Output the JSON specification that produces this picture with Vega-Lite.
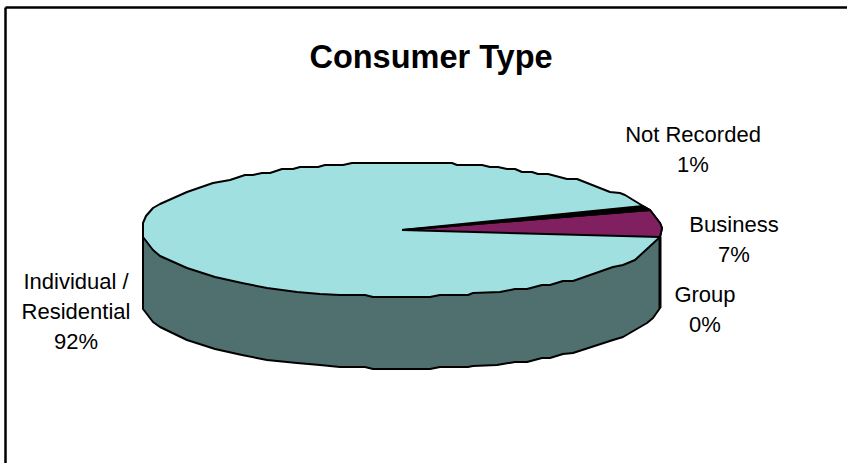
{
  "$schema": "https://vega.github.io/schema/vega-lite/v6.json",
  "width": 842,
  "height": 456,
  "padding": {"left": 5, "top": 7, "right": 0, "bottom": 0},
  "autosize": "none",
  "background": "white",
  "config": {"view": {"stroke": null}},
  "title": {
    "text": "Consumer Type",
    "font": "Liberation Sans",
    "fontSize": 32.5,
    "fontWeight": "bold",
    "color": "black",
    "anchor": "middle",
    "frame": "group",
    "baseline": "alphabetic",
    "dx": 5,
    "offset": -93
  },
  "datasets": {
    "outlines": [
      {"part":"Individual / Residential","share":92,"seq":1,"x":-129.5,"y":-3.5},
      {"part":"Individual / Residential","share":92,"seq":2,"x":-129.5,"y":3.5},
      {"part":"Individual / Residential","share":92,"seq":3,"x":-128,"y":7},
      {"part":"Individual / Residential","share":92,"seq":4,"x":-124.5,"y":11},
      {"part":"Individual / Residential","share":92,"seq":5,"x":-121,"y":13},
      {"part":"Individual / Residential","share":92,"seq":6,"x":-107.5,"y":19},
      {"part":"Individual / Residential","share":92,"seq":7,"x":-94.5,"y":23.5},
      {"part":"Individual / Residential","share":92,"seq":8,"x":-86,"y":25},
      {"part":"Individual / Residential","share":92,"seq":9,"x":-78.5,"y":27.5},
      {"part":"Individual / Residential","share":92,"seq":10,"x":-74.5,"y":27.5},
      {"part":"Individual / Residential","share":92,"seq":11,"x":-70,"y":28.5},
      {"part":"Individual / Residential","share":92,"seq":12,"x":-66,"y":28.5},
      {"part":"Individual / Residential","share":92,"seq":13,"x":-60,"y":30.5},
      {"part":"Individual / Residential","share":92,"seq":14,"x":-54.5,"y":30.5},
      {"part":"Individual / Residential","share":92,"seq":15,"x":-51,"y":31.5},
      {"part":"Individual / Residential","share":92,"seq":16,"x":-42,"y":31.5},
      {"part":"Individual / Residential","share":92,"seq":17,"x":-38.5,"y":32.5},
      {"part":"Individual / Residential","share":92,"seq":18,"x":-29.5,"y":32.5},
      {"part":"Individual / Residential","share":92,"seq":19,"x":-25,"y":33.5},
      {"part":"Individual / Residential","share":92,"seq":20,"x":25,"y":33.5},
      {"part":"Individual / Residential","share":92,"seq":21,"x":27.5,"y":32.5},
      {"part":"Individual / Residential","share":92,"seq":22,"x":40,"y":32.5},
      {"part":"Individual / Residential","share":92,"seq":23,"x":44,"y":31.5},
      {"part":"Individual / Residential","share":92,"seq":24,"x":48,"y":31.5},
      {"part":"Individual / Residential","share":92,"seq":25,"x":52.5,"y":30.5},
      {"part":"Individual / Residential","share":92,"seq":26,"x":56.5,"y":30.5},
      {"part":"Individual / Residential","share":92,"seq":27,"x":60,"y":29},
      {"part":"Individual / Residential","share":92,"seq":28,"x":65,"y":29},
      {"part":"Individual / Residential","share":92,"seq":29,"x":68,"y":28},
      {"part":"Individual / Residential","share":92,"seq":30,"x":73,"y":28},
      {"part":"Individual / Residential","share":92,"seq":31,"x":82.5,"y":25.5},
      {"part":"Individual / Residential","share":92,"seq":32,"x":87.5,"y":25.5},
      {"part":"Individual / Residential","share":92,"seq":33,"x":104,"y":19},
      {"part":"Individual / Residential","share":92,"seq":34,"x":109,"y":18.5},
      {"part":"Individual / Residential","share":92,"seq":35,"x":111.5,"y":17.5},
      {"part":"Individual / Residential","share":92,"seq":36,"x":120.5,"y":12},
      {"part":"Individual / Residential","share":92,"seq":37,"x":124,"y":10},
      {"part":"Individual / Residential","share":92,"seq":38,"x":129,"y":3.5},
      {"part":"Individual / Residential","share":92,"seq":39,"x":130,"y":1},
      {"part":"Individual / Residential","share":92,"seq":40,"x":129,"y":-3.5},
      {"part":"Individual / Residential","share":92,"seq":41,"x":116.5,"y":-15},
      {"part":"Individual / Residential","share":92,"seq":42,"x":110.5,"y":-17.5},
      {"part":"Individual / Residential","share":92,"seq":43,"x":105.5,"y":-18.5},
      {"part":"Individual / Residential","share":92,"seq":44,"x":85.5,"y":-25.5},
      {"part":"Individual / Residential","share":92,"seq":45,"x":80.5,"y":-25.5},
      {"part":"Individual / Residential","share":92,"seq":46,"x":74,"y":-27.5},
      {"part":"Individual / Residential","share":92,"seq":47,"x":70,"y":-27.5},
      {"part":"Individual / Residential","share":92,"seq":48,"x":62.5,"y":-29.5},
      {"part":"Individual / Residential","share":92,"seq":49,"x":56.5,"y":-29.5},
      {"part":"Individual / Residential","share":92,"seq":50,"x":49,"y":-31},
      {"part":"Individual / Residential","share":92,"seq":51,"x":35.5,"y":-31.5},
      {"part":"Individual / Residential","share":92,"seq":52,"x":33,"y":-32.5},
      {"part":"Individual / Residential","share":92,"seq":53,"x":19,"y":-32.5},
      {"part":"Individual / Residential","share":92,"seq":54,"x":14,"y":-33.5},
      {"part":"Individual / Residential","share":92,"seq":55,"x":-14.5,"y":-33.5},
      {"part":"Individual / Residential","share":92,"seq":56,"x":-18.5,"y":-32.5},
      {"part":"Individual / Residential","share":92,"seq":57,"x":-31,"y":-32.5},
      {"part":"Individual / Residential","share":92,"seq":58,"x":-41,"y":-32},
      {"part":"Individual / Residential","share":92,"seq":59,"x":-52.5,"y":-31},
      {"part":"Individual / Residential","share":92,"seq":60,"x":-67.5,"y":-29},
      {"part":"Individual / Residential","share":92,"seq":61,"x":-80,"y":-26.5},
      {"part":"Individual / Residential","share":92,"seq":62,"x":-93.5,"y":-23.5},
      {"part":"Individual / Residential","share":92,"seq":63,"x":-107.5,"y":-19},
      {"part":"Individual / Residential","share":92,"seq":64,"x":-121,"y":-13},
      {"part":"Individual / Residential","share":92,"seq":65,"x":-124.5,"y":-10},
      {"part":"Individual / Residential","share":92,"seq":66,"x":-129.5,"y":-3.5},

      {"part":"Side wall","seq":1,"x":-129.5,"y":-3.5},
      {"part":"Side wall","seq":2,"x":129,"y":-3.5},
      {"part":"Side wall","seq":3,"x":129,"y":-39},
      {"part":"Side wall","seq":4,"x":125.5,"y":-44},
      {"part":"Side wall","seq":5,"x":122.5,"y":-46.5},
      {"part":"Side wall","seq":6,"x":110.5,"y":-53.5},
      {"part":"Side wall","seq":7,"x":105.5,"y":-55},
      {"part":"Side wall","seq":8,"x":85.5,"y":-61.5},
      {"part":"Side wall","seq":9,"x":80.5,"y":-62},
      {"part":"Side wall","seq":10,"x":74,"y":-64},
      {"part":"Side wall","seq":11,"x":70,"y":-64},
      {"part":"Side wall","seq":12,"x":62.5,"y":-66},
      {"part":"Side wall","seq":13,"x":56.5,"y":-66},
      {"part":"Side wall","seq":14,"x":47.5,"y":-67.5},
      {"part":"Side wall","seq":15,"x":35.5,"y":-68},
      {"part":"Side wall","seq":16,"x":33,"y":-68.5},
      {"part":"Side wall","seq":17,"x":19,"y":-68.5},
      {"part":"Side wall","seq":18,"x":14,"y":-69.5},
      {"part":"Side wall","seq":19,"x":-14.5,"y":-69.5},
      {"part":"Side wall","seq":20,"x":-18.5,"y":-68.5},
      {"part":"Side wall","seq":21,"x":-31,"y":-68.5},
      {"part":"Side wall","seq":22,"x":-41,"y":-67.5},
      {"part":"Side wall","seq":23,"x":-52.5,"y":-66.5},
      {"part":"Side wall","seq":24,"x":-67.5,"y":-65},
      {"part":"Side wall","seq":25,"x":-80,"y":-62.5},
      {"part":"Side wall","seq":26,"x":-93.5,"y":-59.5},
      {"part":"Side wall","seq":27,"x":-107.5,"y":-55},
      {"part":"Side wall","seq":28,"x":-121,"y":-48.5},
      {"part":"Side wall","seq":29,"x":-124.5,"y":-46},
      {"part":"Side wall","seq":30,"x":-129.5,"y":-39.5},
      {"part":"Side wall","seq":31,"x":-129.5,"y":-3.5},

      {"part":"Business","share":7,"seq":1,"x":0,"y":0},
      {"part":"Business","share":7,"seq":2,"x":129,"y":-3.5},
      {"part":"Business","share":7,"seq":3,"x":130,"y":1},
      {"part":"Business","share":7,"seq":4,"x":129,"y":3.5},
      {"part":"Business","share":7,"seq":5,"x":124,"y":10},
      {"part":"Business","share":7,"seq":6,"x":0,"y":0},

      {"part":"Not Recorded","share":1,"seq":1,"x":0,"y":0},
      {"part":"Not Recorded","share":1,"seq":2,"x":124,"y":10},
      {"part":"Not Recorded","share":1,"seq":3,"x":120.5,"y":12},
      {"part":"Not Recorded","share":1,"seq":4,"x":0,"y":0},

      {"part":"Group","share":0,"seq":1,"x":129,"y":-3.5},
      {"part":"Group","share":0,"seq":2,"x":129,"y":-39}
    ],
    "labels": [
      {"category":"Not Recorded","share":1,"text":"Not Recorded\n1%","x":145.5,"y":44},
      {"category":"Business","share":7,"text":"Business\n7%","x":166,"y":-1},
      {"category":"Group","share":0,"text":"Group\n0%","x":151.5,"y":-36},
      {"category":"Individual / Residential","share":92,"text":"Individual /\nResidential\n92%","x":-163,"y":-29.5}
    ]
  },
  "data": {"name": "outlines"},
  "encoding": {
    "x": {
      "field": "x",
      "type": "quantitative",
      "scale": {"domain": [-198.5, 222.5], "nice": false, "zero": false},
      "axis": {"orient": "top", "title": null, "ticks": false, "labels": false, "grid": false, "domain": true, "domainColor": "black", "domainWidth": 2.5}
    },
    "y": {
      "field": "y",
      "type": "quantitative",
      "scale": {"domain": [-116.5, 111.5], "nice": false, "zero": false},
      "axis": {"orient": "left", "title": null, "ticks": false, "labels": false, "grid": false, "domain": true, "domainColor": "black", "domainWidth": 2.5}
    },
    "order": {"field": "seq", "type": "quantitative"}
  },
  "layer": [
    {
      "transform": [{"filter": "datum.part === 'Side wall'"}],
      "mark": {"type": "line", "fill": "#507070", "stroke": "black", "strokeWidth": 2, "strokeJoin": "round"}
    },
    {
      "transform": [{"filter": "datum.part === 'Individual / Residential'"}],
      "mark": {"type": "line", "fill": "#A0E0E0", "stroke": "black", "strokeWidth": 2, "strokeJoin": "round"}
    },
    {
      "transform": [{"filter": "datum.part === 'Business'"}],
      "mark": {"type": "line", "fill": "#802060", "stroke": "black", "strokeWidth": 2, "strokeJoin": "round"}
    },
    {
      "transform": [{"filter": "datum.part === 'Not Recorded'"}],
      "mark": {"type": "line", "fill": "black", "stroke": "black", "strokeWidth": 2, "strokeJoin": "round"}
    },
    {
      "transform": [{"filter": "datum.part === 'Group'"}],
      "mark": {"type": "line", "stroke": "black", "strokeWidth": 3}
    },
    {
      "data": {"name": "labels"},
      "mark": {"type": "text", "font": "Liberation Sans", "fontSize": 22, "lineHeight": 30, "lineBreak": "\n", "align": "center", "baseline": "alphabetic", "color": "black"},
      "encoding": {
        "text": {"field": "text"},
        "order": {"value": null}
      }
    }
  ]
}
